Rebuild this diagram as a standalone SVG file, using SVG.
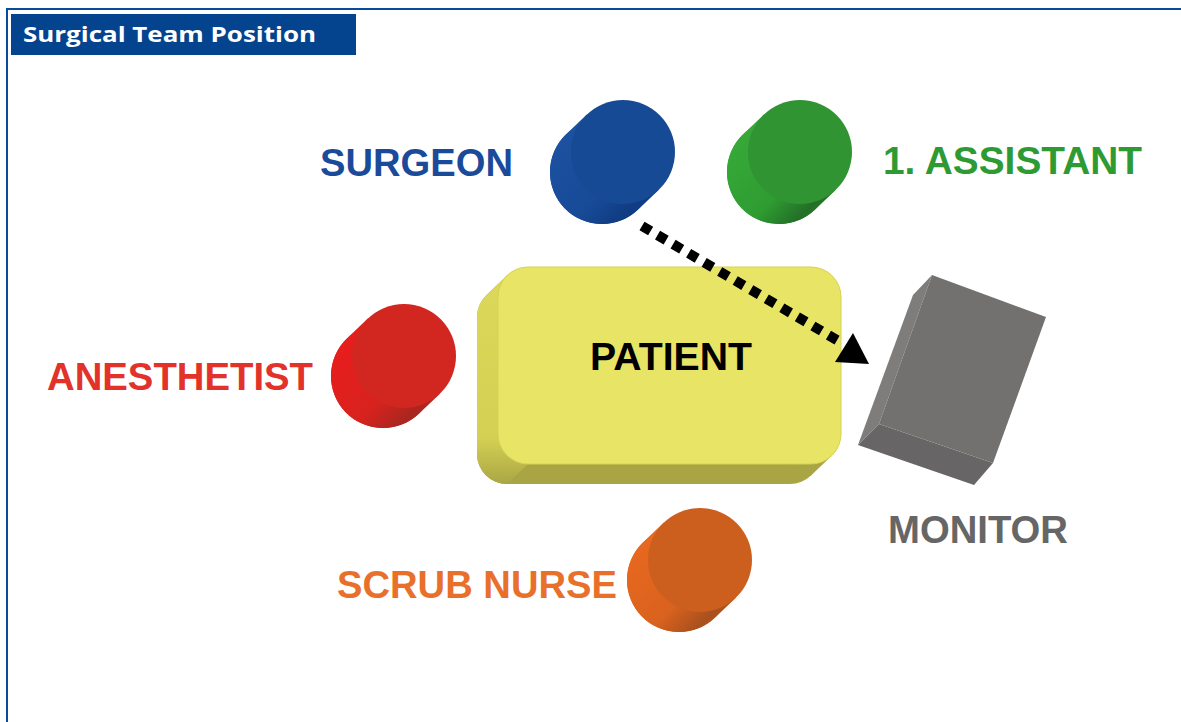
<svg xmlns="http://www.w3.org/2000/svg" width="1181" height="722" viewBox="0 0 1181 722">
  <style>
    .label { font-family: "Liberation Sans", Arial, sans-serif; font-weight: bold; font-size: 38.5px; }
    .title { font-family: "Open Sans", "Liberation Sans", sans-serif; font-weight: bold; font-size: 21px; fill: #ffffff; }
  </style>
  <defs>
    <!-- cylinder side: shared shape, front face centred at 0,0 -->
    <path id="cylSide" d="M35.9,37.7 L14.9,57.7 A52,52 0 0 1 -56.9,-17.7 L-35.9,-37.7 Z"/>
    <linearGradient id="gBlue" x1="0" y1="0" x2="1" y2="1">
      <stop offset="0" stop-color="#1e54a4"/><stop offset="0.6" stop-color="#174a97"/>
      <stop offset="0.82" stop-color="#0f3c82"/><stop offset="1" stop-color="#164894"/>
    </linearGradient>
    <linearGradient id="gGreen" x1="0" y1="0" x2="1" y2="1">
      <stop offset="0" stop-color="#38ad3a"/><stop offset="0.6" stop-color="#2f9c32"/>
      <stop offset="0.82" stop-color="#236f27"/><stop offset="1" stop-color="#2e9331"/>
    </linearGradient>
    <linearGradient id="gRed" x1="0" y1="0" x2="1" y2="1">
      <stop offset="0" stop-color="#ec1c1c"/><stop offset="0.6" stop-color="#d8221e"/>
      <stop offset="0.82" stop-color="#a8271f"/><stop offset="1" stop-color="#cf241f"/>
    </linearGradient>
    <linearGradient id="gOrange" x1="0" y1="0" x2="1" y2="1">
      <stop offset="0" stop-color="#ec6a20"/><stop offset="0.6" stop-color="#d9621e"/>
      <stop offset="0.82" stop-color="#a9501d"/><stop offset="1" stop-color="#cc5f1e"/>
    </linearGradient>
    <linearGradient id="gTableSide" x1="0" y1="0" x2="0" y2="1">
      <stop offset="0" stop-color="#dcd85a"/><stop offset="0.78" stop-color="#d4d053"/>
      <stop offset="1" stop-color="#aaa645"/>
    </linearGradient>
  </defs>

  <!-- frame -->
  <g id="frame">
    <line x1="6" y1="9" x2="1181" y2="9" stroke="#0a4a9a" stroke-width="2"/>
    <line x1="7" y1="8" x2="7" y2="722" stroke="#0a4a9a" stroke-width="2"/>
    <rect x="11" y="14" width="345" height="41" fill="#04448f"/>
    <text class="title" x="23" y="42" textLength="293" lengthAdjust="spacingAndGlyphs">Surgical Team Position</text>
  </g>

  <!-- operating table -->
  <g id="patient">
    <rect x="477" y="287" width="343" height="197" rx="30" fill="#a9a544"/>
    <polygon points="507.3,275.3 486.3,295.3 810.7,475.7 831.7,455.7" fill="#a9a544"/>
    <path d="M507.3,275.3 L486.3,295.3 A30,30 0 0 0 477,317 L477,454 A30,30 0 0 0 507,484 L528,464 A30,30 0 0 1 498,434 L498,297 A30,30 0 0 1 507.3,275.3 Z" fill="url(#gTableSide)"/>
    <rect x="498" y="267" width="343" height="197" rx="30" fill="#e8e466" stroke="#d6d255" stroke-width="1"/>
    <text class="label" x="590" y="370" fill="#000000" textLength="162" lengthAdjust="spacingAndGlyphs">PATIENT</text>
  </g>

  <!-- monitor -->
  <g id="monitor">
    <polygon points="932,275 913,295 858,445 879,424" fill="#7f7d7c"/>
    <polygon points="879,424 993,463 974,485 858,445" fill="#676566"/>
    <polygon points="932,275 1046,317 993,463 879,424" fill="#737170"/>
    <text class="label" x="888" y="543" fill="#666666" textLength="180" lengthAdjust="spacingAndGlyphs">MONITOR</text>
  </g>

  <!-- team members -->
  <g id="surgeon">
    <use href="#cylSide" transform="translate(623,152)" fill="url(#gBlue)"/>
    <circle cx="602" cy="172" r="52" fill="url(#gBlue)"/>
    <circle cx="623" cy="152" r="52" fill="#164a94"/>
    <text class="label" x="320" y="176" fill="#1b4a9b" textLength="193" lengthAdjust="spacingAndGlyphs">SURGEON</text>
  </g>
  <g id="assistant">
    <use href="#cylSide" transform="translate(800,152)" fill="url(#gGreen)"/>
    <circle cx="779" cy="172" r="52" fill="url(#gGreen)"/>
    <circle cx="800" cy="152" r="52" fill="#309433"/>
    <text class="label" x="883" y="174" fill="#2e9a34" textLength="259" lengthAdjust="spacingAndGlyphs">1. ASSISTANT</text>
  </g>
  <g id="anesthetist">
    <use href="#cylSide" transform="translate(404,356)" fill="url(#gRed)"/>
    <circle cx="383" cy="376" r="52" fill="url(#gRed)"/>
    <circle cx="404" cy="356" r="52" fill="#d22620"/>
    <text class="label" x="47" y="390" fill="#e2322a" textLength="266" lengthAdjust="spacingAndGlyphs">ANESTHETIST</text>
  </g>
  <g id="scrub-nurse">
    <use href="#cylSide" transform="translate(700,560)" fill="url(#gOrange)"/>
    <circle cx="679" cy="580" r="52" fill="url(#gOrange)"/>
    <circle cx="700" cy="560" r="52" fill="#cd5f1e"/>
    <text class="label" x="337" y="598" fill="#e8702a" textLength="280" lengthAdjust="spacingAndGlyphs">SCRUB NURSE</text>
  </g>

  <!-- line of sight: surgeon to monitor -->
  <g id="connectors">
    <line x1="642" y1="226" x2="842" y2="343" stroke="#000000" stroke-width="10" stroke-dasharray="10 8"/>
    <polygon points="835,362 853,333 869,364" fill="#000000"/>
  </g>
</svg>
